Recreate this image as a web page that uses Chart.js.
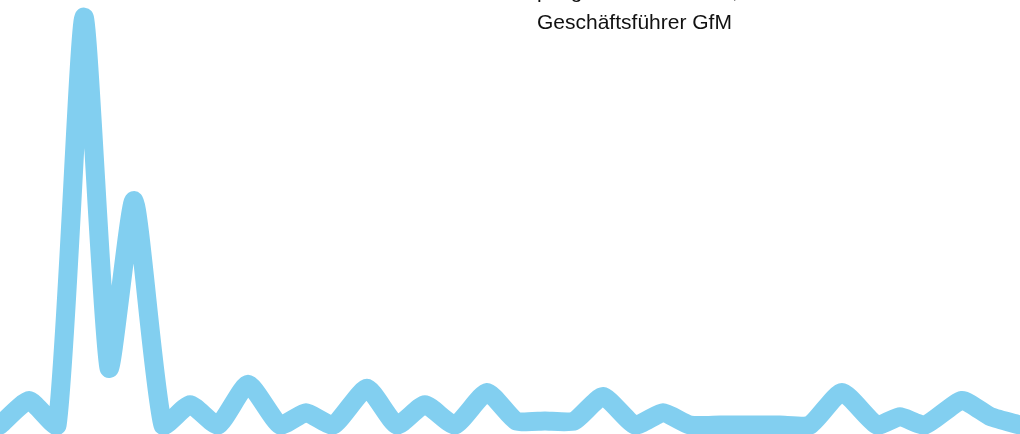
<!DOCTYPE html>
<html>
<head>
<meta charset="utf-8">
<script src="https://cdn.jsdelivr.net/npm/chart.js@4"></script>
<style>
  html, body { margin: 0; padding: 0; background: #fff; overflow: hidden; }
  #wrap { position: relative; width: 1020px; height: 434px; }
  #note {
    position: absolute;
    left: 537px;
    top: -25px;
    font-family: "Liberation Sans", Arial, sans-serif;
    font-size: 21px;
    line-height: 31px;
    color: #111;
    white-space: nowrap;
  }
</style>
</head>
<body>
<div id="wrap">
  <canvas id="trendChart" width="1020" height="434"></canvas>
  <div id="note">pflegt den Austausch,<br>Geschäftsführer GfM</div>
</div>
<script>
// position in weeks
let weeks = [0, 1.00, 1.96, 2.88, 3.74, 4.60, 5.59, 6.52, 7.48, 8.51,
  9.61, 10.50, 11.43, 12.59, 13.62, 14.58, 15.61, 16.71, 17.71, 18.70,
  19.70, 20.69, 21.79, 22.75, 23.68, 24.71, 25.74, 26.76, 27.79, 28.89,
  30.09, 30.88, 31.74, 33.01, 34.00, 35.00];

// interest values (0 - 100)
let interest = [0, 6, 0, 100, 14, 55, 0, 5, 0, 10,
  0, 3, 0, 9, 0, 5, 0, 8, 1, 1,
  1, 7, 0, 3, 0, 0, 0, 0, 0, 8,
  0, 2, 0, 6, 2, 0];

let lineColor = "rgb(130, 207, 240)";

let points = [];
for(let i = 0; i < weeks.length; i++) {
    points.push({ x: weeks[i], y: interest[i] });
}

const config = {
    type: "line",
    data: {
        datasets: [{
            data: points,
            borderColor: lineColor,
            backgroundColor: lineColor,
            borderWidth: 19,
            borderCapStyle: "round",
            borderJoinStyle: "round",
            tension: 0.18,
            pointRadius: 0,
            fill: false,
            clip: false
        }]
    },
    options: {
        responsive: false,
        animation: false,
        layout: { padding: 0 },
        plugins: {
            legend: { display: false },
            tooltip: { enabled: false }
        },
        scales: {
            x: { type: "linear", min: 0, max: 35, display: false },
            y: { min: -2.2, max: 104.2, display: false }
        }
    }
};

new Chart(document.getElementById("trendChart"), config);
</script>
</body>
</html>
